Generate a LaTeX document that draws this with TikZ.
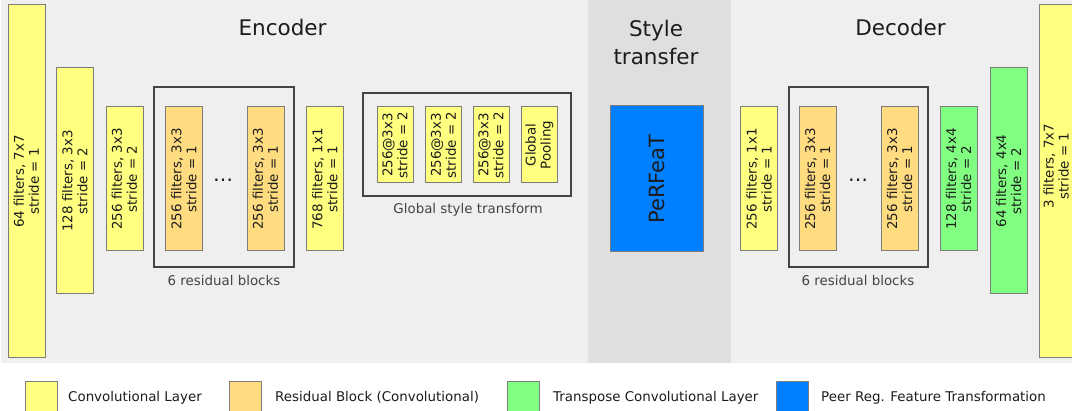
\documentclass[tikz,border=0pt]{standalone}
\usepackage{fontspec}
\setmainfont{DejaVu Sans}
\usepackage{tikz}

\definecolor{convcol}{RGB}{255,255,128}
\definecolor{rescol}{RGB}{255,220,128}
\definecolor{tconvcol}{RGB}{128,255,128}
\definecolor{perfcol}{RGB}{0,128,255}
\definecolor{panelcol}{RGB}{239,239,239}
\definecolor{midcol}{RGB}{223,223,223}
\definecolor{edgecol}{RGB}{125,125,125}
\definecolor{framecol}{RGB}{68,68,68}
\definecolor{inkcol}{RGB}{28,28,28}

\newcommand{\boxfont}{\fontsize{13.4}{15}\selectfont}
\newcommand{\headfont}{\fontsize{21.5}{27.5}\selectfont}

\begin{document}
\begin{tikzpicture}[x=1pt,y=-1pt,
  convbox/.style={draw=edgecol, line width=1pt, rotate=90, minimum height=37pt,
    inner sep=0pt, align=center, font=\boxfont, text=inkcol, fill=convcol},
  resbox/.style={convbox, fill=rescol},
  tconvbox/.style={convbox, fill=tconvcol},
  blockframe/.style={draw=framecol, line width=1.4pt, inner sep=0pt},
  frametext/.style={anchor=base, font=\boxfont, text=framecol},
  heading/.style={font=\headfont, text=inkcol, align=center, inner sep=0pt},
  keybox/.style={draw=edgecol, line width=1pt, minimum size=32pt, inner sep=0pt},
  keytext/.style={anchor=base west, font=\boxfont, text=inkcol, inner sep=0pt}]

  \useasboundingbox (0,0) rectangle (1072,411);

  % panels
  \fill[panelcol] (1,0) rectangle (588,363);
  \fill[midcol] (588,0) rectangle (731,363);
  \fill[panelcol] (731,0) rectangle (1072,363);

  \node[heading, anchor=base] (enc) at (282.5,36) {Encoder};
  \node[heading] (sty) at (656,42.5) {Style\\transfer};
  \node[heading, anchor=base] (dec) at (900.5,36) {Decoder};

  % encoder
  \node[convbox, minimum width=353pt] (c1) at (26.5,181.5) {64 filters, 7x7\\stride = 1};
  \node[convbox, minimum width=226pt] (c2) at (75,181) {128 filters, 3x3\\stride = 2};
  \node[convbox, minimum width=144pt] (c3) at (124.5,179) {256 filters, 3x3\\stride = 2};

  \node[blockframe, minimum width=140pt, minimum height=180pt] (encres) at (224,177) {};
  \node[resbox, minimum width=144pt] (er1) at (184,179) {256 filters, 3x3\\stride = 1};
  \node[font=\fontsize{20}{20}\selectfont, text=inkcol] (edots) at (223,180) {…};
  \node[resbox, minimum width=144pt] (er6) at (265.5,179) {256 filters, 3x3\\stride = 1};
  \node[frametext] (encrestext) at (224,286) {6 residual blocks};

  \node[convbox, minimum width=144pt] (c4) at (325,179) {768 filters, 1x1\\stride = 1};

  % global style transform
  \node[blockframe, minimum width=208pt, minimum height=103pt] (gst) at (467,144.5) {};
  \node[convbox, minimum width=76pt, minimum height=36pt] (g1) at (395,145) {256@3x3\\stride = 2};
  \node[convbox, minimum width=76pt, minimum height=36pt] (g2) at (443.5,145) {256@3x3\\stride = 2};
  \node[convbox, minimum width=76pt, minimum height=36pt] (g3) at (491,145) {256@3x3\\stride = 2};
  \node[convbox, minimum width=76pt, minimum height=36pt] (gpool) at (539.5,145) {Global\\Pooling};
  \node[frametext] (gsttext) at (468,214) {Global style transform};

  % style transfer
  \node[convbox, fill=perfcol, minimum width=146pt, minimum height=93pt,
    font=\fontsize{21}{25}\selectfont] (perf) at (656.5,179) {PeRFeaT};

  % decoder
  \node[convbox, minimum width=144pt] (d1) at (759,179) {256 filters, 1x1\\stride = 1};

  \node[blockframe, minimum width=139pt, minimum height=180pt] (decres) at (858.5,177) {};
  \node[resbox, minimum width=144pt] (dr1) at (817.5,179) {256 filters, 3x3\\stride = 1};
  \node[font=\fontsize{20}{20}\selectfont, text=inkcol] (ddots) at (858,180) {…};
  \node[resbox, minimum width=144pt] (dr6) at (899.5,179) {256 filters, 3x3\\stride = 1};
  \node[frametext] (decrestext) at (858,286) {6 residual blocks};

  \node[tconvbox, minimum width=144pt] (t1) at (958.5,179) {128 filters, 4x4\\stride = 2};
  \node[tconvbox, minimum width=226pt] (t2) at (1008.5,181) {64 filters, 4x4\\stride = 2};
  % last layer runs off the edge, its text sits a bit higher
  \node[convbox, minimum width=353pt] (d2) at (1057.5,181.5) {};
  \node[rotate=90, align=center, font=\boxfont, text=inkcol, inner sep=0pt] (d2text) at (1056,166) {3 filters, 7x7\\stride = 1};

  % legend
  \node[keybox, fill=convcol] (kconv) at (41.5,398) {};
  \node[keytext] (kconvtext) at (68,402) {Convolutional Layer};
  \node[keybox, fill=rescol] (kres) at (245,398) {};
  \node[keytext] (krestext) at (275,402) {Residual Block (Convolutional)};
  \node[keybox, fill=tconvcol] (ktconv) at (523,398) {};
  \node[keytext] (ktconvtext) at (553,402) {Transpose Convolutional Layer};
  \node[keybox, fill=perfcol] (kperf) at (792,398) {};
  \node[keytext] (kperftext) at (821,402) {Peer Reg. Feature Transformation};
\end{tikzpicture}
\end{document}
